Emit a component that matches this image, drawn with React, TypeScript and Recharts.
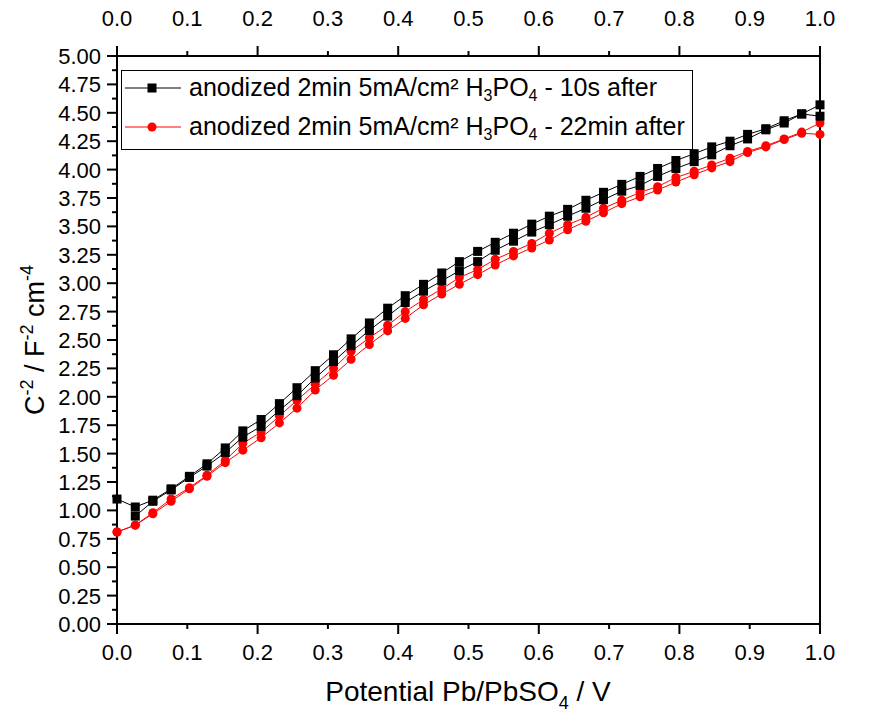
import React from 'react';
import { LineChart, Line, XAxis, YAxis } from 'recharts';

const X_VALUES = [0, 0.026, 0.051, 0.077, 0.103, 0.128, 0.154, 0.179, 0.205, 0.231, 0.256, 0.282, 0.308, 0.333, 0.359, 0.385, 0.41, 0.436, 0.462, 0.487, 0.513, 0.538, 0.564, 0.59, 0.615, 0.641, 0.667, 0.692, 0.718, 0.744, 0.769, 0.795, 0.821, 0.846, 0.872, 0.897, 0.923, 0.949, 0.974, 1.0];

const BLACK_UP = [1.10, 1.03, 1.09, 1.19, 1.30, 1.41, 1.55, 1.70, 1.80, 1.94, 2.08, 2.23, 2.37, 2.51, 2.65, 2.78, 2.89, 2.99, 3.09, 3.19, 3.28, 3.36, 3.44, 3.52, 3.59, 3.65, 3.73, 3.80, 3.87, 3.94, 4.01, 4.08, 4.14, 4.20, 4.25, 4.31, 4.36, 4.43, 4.49, 4.57];
const BLACK_LOW = [null, 0.95, 1.08, 1.18, 1.29, 1.39, 1.51, 1.645, 1.74, 1.88, 2.01, 2.165, 2.31, 2.45, 2.585, 2.71, 2.83, 2.93, 3.02, 3.11, 3.19, 3.29, 3.37, 3.45, 3.515, 3.59, 3.66, 3.735, 3.81, 3.86, 3.94, 4.01, 4.07, 4.13, 4.21, 4.27, 4.35, 4.41, 4.49, 4.47];
const RED_UP = [0.81, 0.87, 0.98, 1.10, 1.20, 1.31, 1.44, 1.59, 1.69, 1.83, 1.97, 2.11, 2.25, 2.40, 2.52, 2.63, 2.75, 2.855, 2.95, 3.05, 3.12, 3.21, 3.28, 3.35, 3.44, 3.515, 3.58, 3.66, 3.73, 3.80, 3.85, 3.93, 3.985, 4.04, 4.10, 4.16, 4.21, 4.27, 4.33, 4.41];
const RED_LOW = [0.81, 0.87, 0.97, 1.08, 1.19, 1.30, 1.42, 1.53, 1.64, 1.77, 1.90, 2.06, 2.19, 2.33, 2.46, 2.58, 2.69, 2.81, 2.905, 2.99, 3.075, 3.16, 3.24, 3.31, 3.38, 3.47, 3.545, 3.62, 3.70, 3.76, 3.82, 3.89, 3.955, 4.015, 4.07, 4.15, 4.20, 4.265, 4.32, 4.31];

const X_TICKS = [0, 0.1, 0.2, 0.3, 0.4, 0.5, 0.6, 0.7, 0.8, 0.9, 1.0];
const Y_TICKS = [0, 0.125, 0.25, 0.375, 0.5, 0.625, 0.75, 0.875, 1, 1.125, 1.25, 1.375, 1.5, 1.625, 1.75, 1.875, 2, 2.125, 2.25, 2.375, 2.5, 2.625, 2.75, 2.875, 3, 3.125, 3.25, 3.375, 3.5, 3.625, 3.75, 3.875, 4, 4.125, 4.25, 4.375, 4.5, 4.625, 4.75, 4.875, 5];

const LEGEND_1 = '10s after';
const LEGEND_2 = '22min after';

const data = X_VALUES.map((x, i) => ({
  x,
  bu: BLACK_UP[i],
  bl: BLACK_LOW[i],
  ru: RED_UP[i],
  rl: RED_LOW[i],
}));

const FONT = 'Arial, "Liberation Sans", sans-serif';
const TICK_FS = 22;

const makeXTick = (side: 'top' | 'bottom') => (props: any) => {
  const { x, y, payload } = props;
  const v = payload.value;
  const major = Math.round(v * 10) % 2 === 0;
  const len = major ? 10 : 5;
  const s = side === 'bottom' ? 1 : -1;
  return (
    <g>
      <line x1={x} y1={y} x2={x} y2={y + s * len} stroke="#000" strokeWidth={2} />
      <text x={x} y={side === 'bottom' ? y + 36 : y - 30} textAnchor="middle" fontSize={TICK_FS} fontFamily={FONT} fill="#000">
        {v.toFixed(1)}
      </text>
    </g>
  );
};

const makeYTick = (side: 'left' | 'right') => (props: any) => {
  const { x, y, payload } = props;
  const v = payload.value;
  const major = Math.round(v * 1000) % 250 === 0;
  const len = major ? 10 : 5;
  const s = side === 'right' ? 1 : -1;
  return (
    <g>
      <line x1={x} y1={y} x2={x + s * len} y2={y} stroke="#000" strokeWidth={2} />
      {major && (
        <text x={side === 'right' ? x + 17 : x - 16} y={y + 8} textAnchor={side === 'right' ? 'start' : 'end'} fontSize={TICK_FS} fontFamily={FONT} fill="#000">
          {v.toFixed(2)}
        </text>
      )}
    </g>
  );
};

const SquareDot = (props: any) => {
  const { cx, cy, index } = props;
  if (cx == null || cy == null || props.value == null) return <g key={`s${index}`} />;
  return <rect key={`s${index}`} x={cx - 4.5} y={cy - 4.5} width={9} height={9} fill="#000" />;
};

const CircleDot = (props: any) => {
  const { cx, cy, index } = props;
  if (cx == null || cy == null || props.value == null) return <g key={`c${index}`} />;
  return <circle key={`c${index}`} cx={cx} cy={cy} r={4.5} fill="#ff0000" />;
};

export default function App() {
  return (
    <div style={{ position: 'absolute', left: 0, top: 0, width: 889, height: 717, background: '#fff' }}>
      <LineChart width={889} height={717} data={data} margin={{ top: 0, right: 0, bottom: 0, left: 0 }}>
        <XAxis xAxisId="b" dataKey="x" type="number" domain={[0, 1]} ticks={X_TICKS} interval={0} orientation="bottom" height={93} tickSize={0} tickMargin={0} tick={makeXTick('bottom')} tickLine={false} axisLine={{ stroke: '#000', strokeWidth: 2 }} />
        <XAxis xAxisId="t" dataKey="x" type="number" domain={[0, 1]} ticks={X_TICKS} interval={0} orientation="top" height={56} tickSize={0} tickMargin={0} tick={makeXTick('top')} tickLine={false} axisLine={{ stroke: '#000', strokeWidth: 2 }} />
        <YAxis yAxisId="l" type="number" domain={[0, 5]} ticks={Y_TICKS} interval={0} orientation="left" width={117} tickSize={0} tickMargin={0} tick={makeYTick('left')} tickLine={false} axisLine={{ stroke: '#000', strokeWidth: 2 }} />
        <YAxis yAxisId="r" type="number" domain={[0, 5]} ticks={Y_TICKS} interval={0} orientation="right" width={69} tickSize={0} tickMargin={0} tick={makeYTick('right')} tickLine={false} axisLine={{ stroke: '#000', strokeWidth: 2 }} />
        <Line xAxisId="b" yAxisId="l" dataKey="rl" stroke="#ff0000" strokeWidth={1} dot={CircleDot} isAnimationActive={false} />
        <Line xAxisId="b" yAxisId="l" dataKey="ru" stroke="#ff0000" strokeWidth={1} dot={CircleDot} isAnimationActive={false} />
        <Line xAxisId="b" yAxisId="l" dataKey="bl" stroke="#000" strokeWidth={1} dot={SquareDot} isAnimationActive={false} />
        <Line xAxisId="b" yAxisId="l" dataKey="bu" stroke="#000" strokeWidth={1} dot={SquareDot} isAnimationActive={false} />
      </LineChart>
      <svg width={889} height={717} style={{ position: 'absolute', left: 0, top: 0, pointerEvents: 'none' }}>
        <g fontFamily={FONT} fill="#000">
          <rect x={121.5} y={70.5} width={571} height={79} fill="#fff" stroke="#000" strokeWidth={1} />
          <line x1={125} y1={88} x2={181} y2={88} stroke="#000" strokeWidth={1} />
          <rect x={147.5} y={83.5} width={9} height={9} fill="#000" />
          <text x={189} y={96} fontSize={25}>
            anodized 2min 5mA/cm² H<tspan fontSize={16} dy={5}>3</tspan><tspan dy={-5}>PO</tspan><tspan fontSize={16} dy={5}>4</tspan><tspan dy={-5}> - {LEGEND_1}</tspan>
          </text>
          <line x1={125} y1={127} x2={181} y2={127} stroke="#ff0000" strokeWidth={1} />
          <circle cx={152} cy={127} r={4.5} fill="#ff0000" />
          <text x={189} y={135} fontSize={25}>
            anodized 2min 5mA/cm² H<tspan fontSize={16} dy={5}>3</tspan><tspan dy={-5}>PO</tspan><tspan fontSize={16} dy={5}>4</tspan><tspan dy={-5}> - {LEGEND_2}</tspan>
          </text>
          <text x={468} y={701} textAnchor="middle" fontSize={28}>
            Potential Pb/PbSO<tspan fontSize={18} dy={8}>4</tspan><tspan dy={-8}> / V</tspan>
          </text>
          <text x={44} y={340} textAnchor="middle" fontSize={27} transform="rotate(-90 44 340)">
            C<tspan fontSize={18} dy={-11}>-2</tspan><tspan dy={11}> / F</tspan><tspan fontSize={18} dy={-11}>-2</tspan><tspan dy={11}> cm</tspan><tspan fontSize={18} dy={-11}>-4</tspan>
          </text>
        </g>
      </svg>
    </div>
  );
}
